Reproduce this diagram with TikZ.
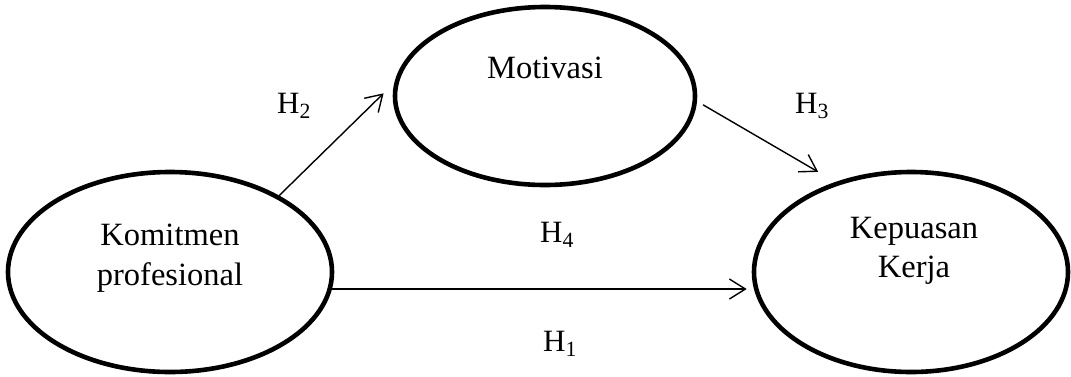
\documentclass[tikz,border=0pt]{standalone}
\usepackage{fontspec}
\setmainfont{Liberation Serif}
\usetikzlibrary{shapes.geometric,arrows.meta,calc}
\begin{document}
\begin{tikzpicture}[x=1pt,y=-1pt,
  var/.style={draw,ellipse,line width=4.6pt,inner sep=0pt},
  lbl/.style={font=\fontsize{32.5}{38}\selectfont,inner sep=0pt},
  hyp/.style={font=\fontsize{31}{36}\selectfont,inner sep=0pt,anchor=base west},
  arr/.style={line width=1.4pt,-{Straight Barb[length=16pt,width=20pt,line width=1.4pt]}}]
\useasboundingbox (0,0) rectangle (1071,376);
\node[var,minimum width=324pt,minimum height=200pt] (kom) at (170,272) {};
\node[var,minimum width=300pt,minimum height=178pt] (mot) at (545,96) {};
\node[var,minimum width=314pt,minimum height=200pt] (kep) at (911,272) {};
\node[lbl,anchor=base] (t1) at (170,245) {Komitmen};
\node[lbl,anchor=base] (t2) at (170,285) {profesional};
\node[lbl,anchor=base] (t3) at (545,78) {Motivasi};
\node[lbl,anchor=base] (t4) at (914,238) {Kepuasan};
\node[lbl,anchor=base] (t5) at (914,277) {Kerja};
\node[hyp] (h2) at (277,113) {H\textsubscript{2}};
\node[hyp] (h3) at (795,113) {H\textsubscript{3}};
\node[hyp] (h4) at (540,242) {H\textsubscript{4}};
\node[hyp] (h1) at (543,351) {H\textsubscript{1}};
\draw[arr,shorten >=15pt] (kom.35) -- (mot.175);
\draw[arr,shorten <=7pt,shorten >=20pt] (mot.358) -- (kep.130);
\draw[arr,shorten >=5pt] (kom.-6.8) -- (kom.-6.8 -| kep.west);
\end{tikzpicture}
\end{document}
